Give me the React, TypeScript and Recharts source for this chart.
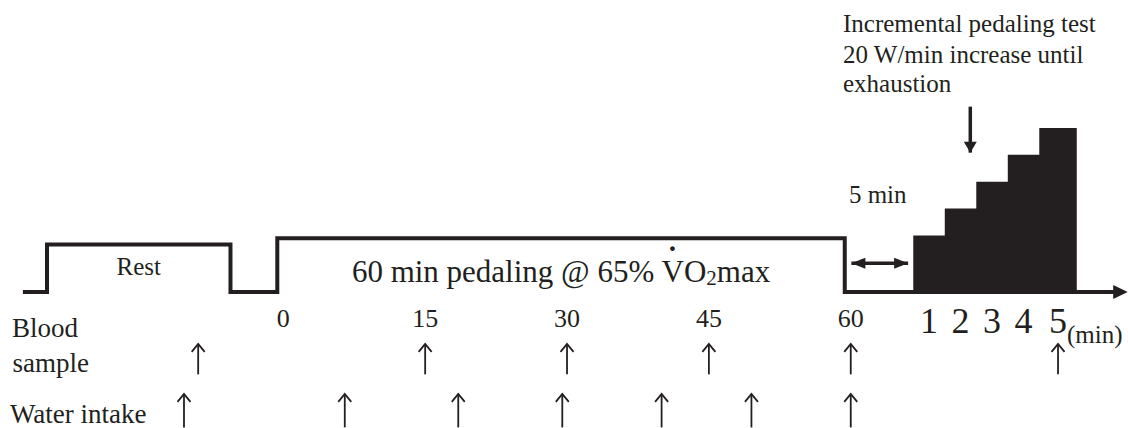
import React from 'react';
import { ComposedChart, XAxis, YAxis, Line, Area, Scatter } from 'recharts';

// ---------------- data (minutes on the displayed timeline, levels in workload steps) ----------------
const timelineStart = -26.9;
const timelineEnd = 88.6;
const timelineArrowTip = 89.92;
const restPeriod = [-24.35, -4.95];
const restLevel = 1.77;
const pedalPeriod = [0, 60];
const pedalLevel = 2;
const mainTicks = [0, 15, 30, 45, 60];
const bloodSampleTimes = [-9, 15, 30, 45, 60];
const waterIntakeTimes = [-10.5, 6.5, 18.5, 29.5, 40, 49.5, 60];
const recoveryGap = [60.7, 66.7];
const recoveryGapLevel = 1.07;

// incremental test (own minute axis)
const testStageStarts = [0, 1, 2, 3, 4];
const testStageLevels = [2.1, 3.1, 4.1, 5.1, 6.1];
const testEnd = 5.19;
const testStageLabels = ['1', '2', '3', '4', '5'];
const testArrowAt = 1.81;
const testArrowLevels = [6.89, 5.18];
const bloodAfterTestStage = 5;

// ---------------- layout / style ----------------
const W = 1128;
const H = 428;
const INK = '#231f20';
const FONT = '"Liberation Serif", "Times New Roman", Times, serif';
const MAIN_DOMAIN: [number, number] = [-29.32, 89.95];
const TEST_DOMAIN: [number, number] = [-28.99, 6.816];
const Y_DOMAIN: [number, number] = [-5.056, 10.855];
const TICK_ROW_Y = -1.29;
const DIGIT_ROW_Y = -1.52;
const BLOOD_ROW_Y = -1.91;
const WATER_ROW_Y = -3.77;
const MAIN_MARK_DX = 6;

// ---------------- derived series ----------------
const profile = [
  { x: timelineStart, y: 0 },
  { x: restPeriod[0], y: 0 },
  { x: restPeriod[0], y: restLevel },
  { x: restPeriod[1], y: restLevel },
  { x: restPeriod[1], y: 0 },
  { x: pedalPeriod[0], y: 0 },
  { x: pedalPeriod[0], y: pedalLevel },
  { x: pedalPeriod[1], y: pedalLevel },
  { x: pedalPeriod[1], y: 0 },
  { x: timelineEnd, y: 0 },
];
const axisEnd = [{ x: timelineArrowTip, y: 0 }];
const testSteps = testStageStarts
  .map((s, i) => ({ x: s, y: testStageLevels[i] }))
  .concat([{ x: testEnd, y: testStageLevels[testStageLevels.length - 1] }]);
const stageCenters = testStageStarts.map((s, i) => {
  const e = i + 1 < testStageStarts.length ? testStageStarts[i + 1] : testEnd;
  return s + (e - s) / 2;
});
const testLabelPoints = stageCenters.map((c, i) => ({ x: c, y: DIGIT_ROW_Y, label: testStageLabels[i], last: i === stageCenters.length - 1 }));
const tickPoints = mainTicks.map((t) => ({ x: t, y: TICK_ROW_Y, label: String(t) }));
const bloodPoints = bloodSampleTimes.map((t) => ({ x: t, y: BLOOD_ROW_Y }));
const waterPoints = waterIntakeTimes.map((t) => ({ x: t, y: WATER_ROW_Y }));
const bloodTestPoints = [{ x: stageCenters[bloodAfterTestStage - 1], y: BLOOD_ROW_Y }];
const gapLine = recoveryGap.map((x) => ({ x, y: recoveryGapLevel }));
const gapLabel = [{ x: (recoveryGap[0] + recoveryGap[1]) / 2, y: recoveryGapLevel }];
const testArrow = testArrowLevels.map((y) => ({ x: testArrowAt, y }));
const restLabel = [{ x: (restPeriod[0] + restPeriod[1]) / 2, y: 0 }];
const pedalLabel = [{ x: (pedalPeriod[0] + pedalPeriod[1]) / 2, y: 0 }];

// ---------------- shapes ----------------
const thinUpArrow = (dx: number, len: number) => (p: any) => {
  const x = p.cx + dx;
  const y = p.cy;
  return (
    <g>
      <line x1={x} y1={y + 1} x2={x} y2={y + len} stroke={INK} strokeWidth={1.8} />
      <path d={`M${x - 6.5},${y + 8.5} L${x},${y + 0.5} L${x + 6.5},${y + 8.5}`} fill="none" stroke={INK} strokeWidth={1.8} />
    </g>
  );
};

const axisArrowHead = (p: any) => (
  <path d={`M${p.cx},${p.cy} L${p.cx - 14.5},${p.cy - 7} L${p.cx - 14.5},${p.cy + 7} Z`} fill={INK} />
);

const gapDot = (p: any) => {
  const { cx, cy, index } = p;
  const d = index === 0
    ? `M${cx},${cy} L${cx + 14},${cy - 5.5} L${cx + 14},${cy + 5.5} Z`
    : `M${cx},${cy} L${cx - 14},${cy - 5.5} L${cx - 14},${cy + 5.5} Z`;
  return <path key={`g${index}`} d={d} fill={INK} />;
};

const downDot = (p: any) => {
  const { cx, cy, index } = p;
  if (index === 0) return <g key={`d${index}`} />;
  return <path key={`d${index}`} d={`M${cx},${cy} L${cx - 6.5},${cy - 11} L${cx + 6.5},${cy - 11} Z`} fill={INK} />;
};

const txt = (size: number) => ({ fontFamily: FONT, fontSize: size, fill: INK });

const tickText = (p: any) => (
  <text x={p.cx + MAIN_MARK_DX} y={p.cy} textAnchor="middle" style={txt(26)}>
    {p.payload.label}
  </text>
);

const digitText = (p: any) => (
  <g>
    <text x={p.cx} y={p.cy} textAnchor="middle" style={txt(36)}>
      {p.payload.label}
    </text>
    {p.payload.last ? (
      <text x={p.cx + 9} y={p.cy + 10} textAnchor="start" style={txt(25)}>
        (min)
      </text>
    ) : null}
  </g>
);

const restText = (p: any) => (
  <text x={p.cx} y={p.cy - 17} textAnchor="middle" style={txt(25)}>
    Rest
  </text>
);

const pedalText = (p: any) => (
  <text x={p.cx} y={p.cy - 10} textAnchor="middle" style={txt(31)}>
    60 min pedaling @ 65% V
    <tspan dx="-0.53em" dy="-0.45em" fontWeight="bold">˙</tspan>
    <tspan dx="0.2em" dy="0.45em">O</tspan>
    <tspan fontSize={21} dy={3}>2</tspan>
    <tspan dy={-3}>max</tspan>
  </text>
);

const gapText = (p: any) => (
  <text x={p.cx - 2} y={p.cy - 60} textAnchor="middle" style={txt(25)}>
    5 min
  </text>
);

export default function App() {
  return (
    <div style={{ position: 'absolute', left: 0, top: 0, width: W, height: H, background: '#fff' }}>
      <ComposedChart width={W} height={H} margin={{ top: 0, right: 0, bottom: 0, left: 0 }}>
        <XAxis xAxisId="main" type="number" dataKey="x" domain={MAIN_DOMAIN} allowDataOverflow hide />
        <XAxis xAxisId="test" type="number" dataKey="x" domain={TEST_DOMAIN} allowDataOverflow hide />
        <YAxis yAxisId="y" type="number" dataKey="y" domain={Y_DOMAIN} allowDataOverflow hide />

        <Area xAxisId="test" yAxisId="y" data={testSteps} dataKey="y" type="stepAfter" baseValue={0}
          stroke="none" fill={INK} fillOpacity={1} isAnimationActive={false} dot={false} activeDot={false} />
        <Line xAxisId="main" yAxisId="y" data={profile} dataKey="y" type="linear" stroke={INK} strokeWidth={4}
          strokeLinejoin="miter" strokeLinecap="butt" dot={false} activeDot={false} isAnimationActive={false} />
        <Scatter xAxisId="main" yAxisId="y" data={axisEnd} shape={axisArrowHead} isAnimationActive={false} />
        <Line xAxisId="main" yAxisId="y" data={gapLine} dataKey="y" type="linear" stroke={INK} strokeWidth={3.5}
          dot={gapDot} activeDot={false} isAnimationActive={false} />
        <Line xAxisId="test" yAxisId="y" data={testArrow} dataKey="y" type="linear" stroke={INK} strokeWidth={3.5}
          dot={downDot} activeDot={false} isAnimationActive={false} />

        <Scatter xAxisId="main" yAxisId="y" data={restLabel} shape={restText} isAnimationActive={false} />
        <Scatter xAxisId="main" yAxisId="y" data={pedalLabel} shape={pedalText} isAnimationActive={false} />
        <Scatter xAxisId="main" yAxisId="y" data={gapLabel} shape={gapText} isAnimationActive={false} />
        <Scatter xAxisId="main" yAxisId="y" data={tickPoints} shape={tickText} isAnimationActive={false} />
        <Scatter xAxisId="test" yAxisId="y" data={testLabelPoints} shape={digitText} isAnimationActive={false} />
        <Scatter xAxisId="main" yAxisId="y" data={bloodPoints} shape={thinUpArrow(MAIN_MARK_DX, 31)} isAnimationActive={false} />
        <Scatter xAxisId="test" yAxisId="y" data={bloodTestPoints} shape={thinUpArrow(0, 31)} isAnimationActive={false} />
        <Scatter xAxisId="main" yAxisId="y" data={waterPoints} shape={thinUpArrow(MAIN_MARK_DX, 34)} isAnimationActive={false} />

        <g>
          <text x={843} y={31.7} style={txt(25)}>Incremental pedaling test</text>
          <text x={843} y={63.3} style={txt(25)}>20 W/min increase until</text>
          <text x={843} y={91.7} style={txt(25)}>exhaustion</text>
          <text x={12} y={337} style={txt(27)}>Blood</text>
          <text x={12.5} y={372} style={txt(27)}>sample</text>
          <text x={10} y={423} style={txt(27)}>Water intake</text>
        </g>
      </ComposedChart>
    </div>
  );
}
